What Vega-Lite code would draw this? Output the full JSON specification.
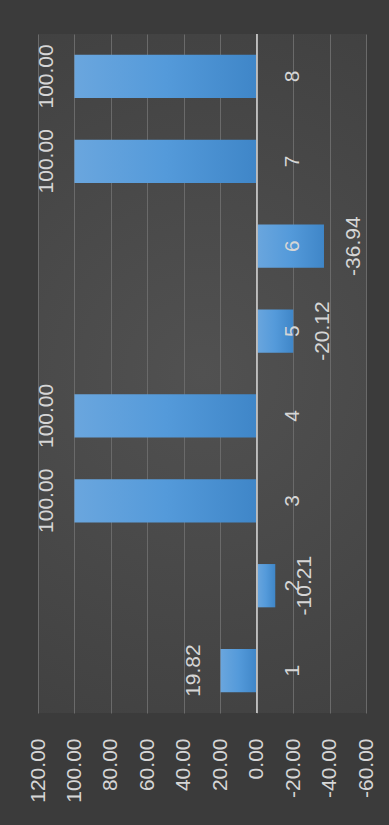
{
  "$schema": "https://vega.github.io/schema/vega-lite/v6.json",
  "autosize": "none",
  "width": 328,
  "height": 679,
  "padding": {"left": 38, "top": 34, "right": 23, "bottom": 112},
  "background": "#3b3b3b",
  "config": {
    "view": {"stroke": null, "fill": {"gradient": "radial", "x1": 0.5, "y1": 0.5, "r1": 0, "x2": 0.5, "y2": 0.5, "r2": 0.75, "stops": [{"offset": 0, "color": "#515151"}, {"offset": 1, "color": "#3c3c3c"}]}},
    "font": "Liberation Sans",
    "locale": {"number": {"decimal": ".", "thousands": ",", "grouping": [3], "currency": ["$", ""], "minus": "-"}}
  },
  "data": {
    "values": [
      {"cat": "1", "v": 19.82},
      {"cat": "2", "v": -10.21},
      {"cat": "3", "v": 100.0},
      {"cat": "4", "v": 100.0},
      {"cat": "5", "v": -20.12},
      {"cat": "6", "v": -36.94},
      {"cat": "7", "v": 100.0},
      {"cat": "8", "v": 100.0}
    ]
  },
  "encoding": {
    "y": {
      "field": "cat",
      "type": "ordinal",
      "sort": "descending",
      "scale": {"paddingInner": 0.49, "paddingOuter": 0.245},
      "axis": {
        "orient": "right",
        "offset": -78,
        "labelPadding": 4,
        "ticks": false,
        "domain": false,
        "grid": false,
        "title": null,
        "zindex": 2,
        "labelAngle": -90,
        "labelAlign": "center",
        "labelBaseline": "middle",
        "labelFontSize": 21,
        "labelColor": "#d6d6d6"
      }
    },
    "x": {
      "field": "v",
      "type": "quantitative",
      "scale": {"domain": [-60, 120], "reverse": true, "nice": false, "zero": false},
      "axis": {
        "orient": "bottom",
        "values": [-60, -40, -20, 0, 20, 40, 60, 80, 100, 120],
        "format": ".2f",
        "domain": false,
        "ticks": false,
        "grid": true,
        "gridColor": "#6a6a6a",
        "gridWidth": 1,
        "labelAngle": -90,
        "labelPadding": 25,
        "labelFontSize": 21,
        "labelColor": "#d6d6d6",
        "labelOverlap": false,
        "title": null
      }
    }
  },
  "layer": [
    {
      "mark": {
        "type": "bar",
        "color": {"gradient": "linear", "x1": 0, "y1": 0, "x2": 1, "y2": 0, "stops": [{"offset": 0, "color": "#6aa6de"}, {"offset": 0.5, "color": "#549ada"}, {"offset": 1, "color": "#3f86c8"}]}
      }
    },
    {
      "mark": {"type": "rule", "color": "#bdbdbd", "strokeWidth": 1.2},
      "encoding": {"x": {"datum": 0}, "y": null}
    },
    {
      "transform": [{"filter": "datum.v >= 0"}],
      "mark": {"type": "text", "angle": 270, "align": "center", "baseline": "middle", "dy": -27, "fontSize": 21, "color": "#d6d6d6"},
      "encoding": {"text": {"field": "v", "type": "quantitative", "format": ".2f"}}
    },
    {
      "transform": [{"filter": "datum.v < 0"}],
      "mark": {"type": "text", "angle": 270, "align": "center", "baseline": "middle", "dy": 30, "fontSize": 21, "color": "#d6d6d6"},
      "encoding": {"text": {"field": "v", "type": "quantitative", "format": ".2f"}}
    }
  ]
}
